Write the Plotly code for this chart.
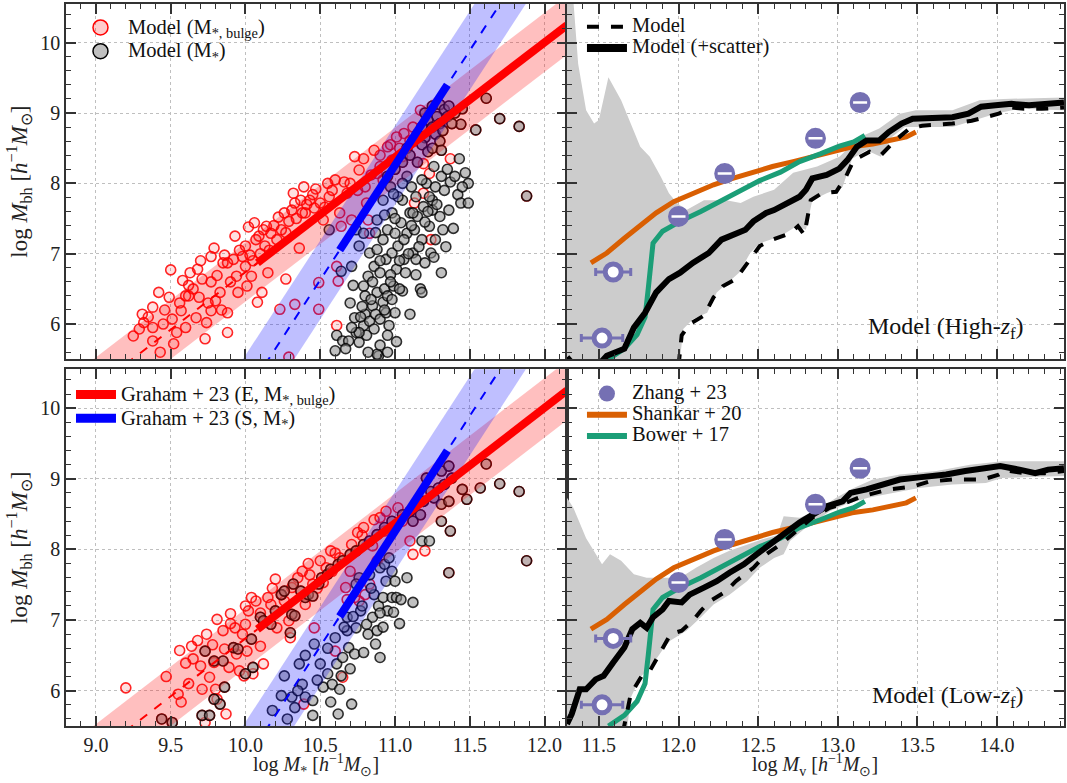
import plotly.graph_objects as go

FONT = "Liberation Serif"

# ---------------- data: top-left (High-zf) scatter ----------------
tl_bulge_only_x = [9.25, 9.29, 9.31, 9.32, 9.38, 9.38, 9.42, 9.45, 9.38, 9.43, 9.49, 9.51, 9.52, 9.54, 9.5, 9.6, 9.57, 9.6, 9.62, 9.65,
                   9.67, 9.69, 9.63, 9.68, 9.71, 9.74, 9.73, 9.77, 9.77, 9.79, 9.77, 9.81, 9.8, 9.83, 9.85, 9.88, 9.88, 9.88, 9.92, 9.93,
                   9.94, 9.95, 9.98, 10.0, 10.0, 10.01, 10.02, 10.04, 10.06, 10.07, 10.08, 10.11, 10.12, 10.13, 10.14, 10.15, 10.17, 10.21, 10.24, 10.26,
                   10.27, 10.29, 10.31, 10.32, 10.33, 10.36, 10.37, 10.38, 10.39, 10.4, 10.43, 10.45, 10.46, 10.49, 10.5, 10.52, 10.55, 10.56, 10.6, 10.61,
                   10.62, 10.63, 10.64, 10.68, 10.7, 10.71, 10.73, 10.76, 10.79, 10.8, 10.81, 10.82, 10.83, 10.86, 10.88, 10.9, 10.92, 10.95, 10.98, 11.01,
                   11.05, 11.06, 11.1, 11.12, 11.17, 11.19, 11.23, 11.24, 11.13, 11.19, 11.37, 10.29, 10.23, 10.49, 10.61, 10.33,
                   9.96, 10.03, 10.09, 10.16, 10.19, 10.22, 10.27, 10.34, 10.41, 10.47, 10.53, 10.58, 10.66, 10.75, 10.84, 10.9, 10.97, 11.03, 9.7, 9.62,
                   9.56, 9.46, 9.35, 9.58, 9.86, 9.9, 10.05, 10.1, 9.75, 9.84]
tl_bulge_only_y = [5.83, 5.93, 6.14, 6.02, 5.95, 6.24, 6.45, 6.0, 5.76, 5.6, 6.38, 6.07, 5.72, 5.88, 6.77, 6.4, 6.19, 5.95, 6.4, 6.5,
                   6.09, 6.38, 6.73, 6.78, 6.64, 6.02, 5.79, 6.19, 6.6, 7.08, 6.96, 6.69, 6.33, 6.45, 6.87, 6.87, 6.16, 5.88, 6.92, 7.25,
                   6.68, 6.45, 6.96, 7.11, 6.82, 6.54, 7.38, 6.68, 7.44, 7.2, 6.31, 6.45, 7.34, 7.11, 7.39, 6.73, 7.29, 7.2, 7.34, 7.58,
                   6.64, 7.46, 7.62, 7.86, 7.72, 7.08, 7.76, 7.58, 7.95, 7.58, 7.76, 7.84, 7.65, 6.59, 7.72, 7.48, 8.0, 7.81, 8.05, 6.82,
                   6.61, 7.58, 7.39, 7.86, 8.0, 7.48, 8.38, 8.19, 8.35, 7.95, 7.72, 7.48, 7.29, 8.47, 8.14, 8.24, 8.05, 8.52, 8.33, 8.66,
                   8.38, 8.71, 8.61, 8.8, 9.04, 8.28, 8.14, 7.2, 7.72, 7.86, 8.35, 5.53, 6.21, 6.21, 5.98, 6.28,
                   7.05, 6.98, 7.25, 7.05, 7.4, 7.52, 7.3, 7.5, 7.7, 7.92, 7.66, 7.9, 8.02, 7.9, 8.12, 8.4, 8.55, 8.5, 6.9, 6.55,
                   6.3, 6.2, 6.1, 6.62, 6.98, 6.6, 6.9, 7.0, 6.3, 6.2]

tl_star_only_x = [10.56, 10.64, 10.71, 10.6, 10.61, 10.65, 10.69, 10.73, 10.74, 10.76, 10.79, 10.8, 10.81, 10.83, 10.85, 10.86, 10.87, 10.88, 10.89, 10.9,
                  10.92, 10.93, 10.94, 10.95, 10.96, 10.98, 10.99, 10.79, 10.82, 10.83, 10.86, 10.88, 10.9, 10.92, 10.94, 10.95, 10.98, 10.98, 11.0, 11.01,
                  11.02, 11.04, 11.05, 11.06, 11.07, 11.08, 11.1, 11.11, 11.12, 11.13, 11.14, 11.15, 11.17, 11.18, 11.19, 11.2, 11.21, 11.23, 11.24, 11.25,
                  11.26, 11.27, 11.3, 11.31, 11.32, 11.36, 11.37, 11.39, 11.42, 11.43, 11.44, 11.49, 11.49, 11.31, 11.18, 11.1, 11.05, 11.0, 10.88, 10.76,
                  10.95, 11.12, 11.14, 11.23, 11.25, 11.02, 10.97, 10.92, 10.88, 10.76, 10.74, 10.79,
                  10.7, 10.72, 10.78, 10.8, 10.85, 10.9, 10.97, 11.03, 11.0, 11.06, 11.09, 11.11, 11.16, 11.2, 11.22, 11.27, 11.28, 11.33, 11.35, 11.4,
                  11.45, 11.47, 11.18, 11.08, 11.05, 10.99, 10.93, 10.87, 10.84, 10.77, 10.82, 10.71, 10.67, 10.93, 10.97, 11.03, 11.14, 11.26, 11.34, 11.01,
                  10.95, 10.9]
tl_star_only_y = [7.34, 6.75, 6.82, 5.62, 5.84, 5.76, 5.76, 6.09, 5.88, 5.74, 5.98, 6.14, 5.84, 6.04, 6.26, 5.93, 6.14, 6.45, 5.55, 6.07,
                  6.31, 6.5, 6.16, 6.4, 5.98, 6.35, 6.54, 6.54, 6.68, 7.01, 6.82, 7.06, 6.73, 7.2, 6.92, 7.34, 7.01, 7.58, 7.29, 6.78,
                  7.11, 7.44, 7.76, 6.92, 6.73, 7.29, 7.58, 7.95, 7.01, 7.34, 6.92, 7.53, 6.5, 7.2, 7.67, 6.87, 8.0, 7.39, 7.01, 7.76,
                  8.24, 7.95, 7.53, 8.1, 7.34, 7.62, 8.02, 7.36, 7.84, 8.35, 7.72, 7.72, 8.0, 6.73, 6.45, 6.14, 6.47, 6.16, 5.57, 5.88,
                  5.84, 7.58, 7.81, 7.81, 7.62, 7.81, 7.95, 7.76, 7.48, 7.11, 7.34, 7.29,
                  6.3, 6.55, 6.25, 6.4, 6.6, 6.9, 6.7, 6.9, 7.5, 7.2, 7.0, 7.4, 7.1, 7.45, 7.6, 7.2, 7.7, 7.9, 8.2, 8.1,
                  7.95, 8.15, 8.05, 8.1, 8.0, 7.85, 7.55, 7.3, 6.35, 6.1, 5.6, 5.95, 5.65, 6.2, 6.6, 6.5, 6.7, 6.95, 7.1, 5.75,
                  5.6, 5.7]

tl_both_x = [11.61, 11.7, 11.83, 11.88, 11.54, 11.44, 11.45, 11.2, 11.25, 11.3, 11.33, 11.28, 11.22, 11.18, 11.25, 11.3, 11.35, 11.15, 11.2, 11.27,
             11.12, 11.18, 11.08, 11.22, 11.3, 11.36, 11.4, 11.1, 11.05, 11.0, 10.95, 11.15, 11.25, 11.32, 11.38, 11.31]
tl_both_y = [9.21, 8.92, 8.81, 7.82, 8.76, 8.84, 9.06, 9.0, 9.1, 9.12, 9.05, 8.95, 8.9, 8.8, 8.8, 8.85, 8.95, 8.7, 8.65, 8.7,
             8.6, 8.55, 8.5, 8.45, 8.6, 9.1, 9.0, 8.4, 8.3, 8.2, 8.1, 8.3, 8.5, 8.75, 8.85, 8.47]

# ---------------- data: bottom-left (Low-zf) scatter ----------------
bl_bulge_only_x = [9.2, 9.56, 9.6, 9.57, 9.55, 9.64, 9.68, 9.7, 9.71, 9.73, 9.74, 9.76, 9.79, 9.8, 9.81, 9.81, 9.85, 9.86, 9.87, 9.89,
                   9.9, 9.93, 9.94, 9.96, 9.98, 9.99, 10.0, 10.01, 10.02, 10.04, 10.05, 10.07, 10.1, 10.12, 10.15, 10.17, 10.2, 10.21, 10.24, 10.26,
                   10.29, 10.3, 10.31, 10.38, 10.39, 10.4, 10.43, 10.45, 10.46, 10.5, 10.52, 10.54, 10.57, 10.58, 10.6, 10.63, 10.65, 10.67, 10.68, 10.7,
                   10.71, 10.73, 10.75, 10.76, 10.79, 10.8, 10.83, 10.86, 10.88, 10.93, 10.94, 11.02, 11.05, 11.12, 11.2, 11.1,
                   9.65, 9.9, 10.0, 10.1, 10.18, 10.35, 10.42, 10.48, 10.6, 10.78, 10.85, 10.9, 9.47, 9.62, 9.78]
bl_bulge_only_y = [6.04, 6.57, 6.39, 5.84, 5.95, 6.63, 6.71, 6.35, 6.02, 5.55, 6.8, 6.19, 6.4, 6.02, 5.88, 7.01, 6.85, 6.59, 5.67, 6.33,
                   7.09, 6.89, 6.52, 6.28, 6.8, 6.21, 6.94, 6.56, 7.13, 7.32, 6.24, 7.27, 6.63, 6.38, 7.32, 7.22, 7.58, 6.89, 7.36, 7.27,
                   6.99, 6.75, 7.46, 7.69, 5.81, 7.22, 7.64, 7.51, 6.89, 7.84, 7.53, 7.74, 7.98, 7.69, 6.56, 7.88, 6.19, 7.46, 7.29, 7.69,
                   8.07, 7.32, 8.24, 7.27, 8.31, 7.36, 7.51, 8.42, 7.84, 8.26, 8.54, 8.59, 8.4, 7.93, 7.98, 8.12,
                   6.45, 6.95, 7.2, 7.1, 7.45, 7.6, 7.8, 7.45, 7.95, 8.2, 8.05, 8.45, 6.2, 6.1, 6.65]

bl_star_only_x = [10.18, 10.24, 10.26, 10.31, 10.33, 10.36, 10.38, 10.4, 10.45, 10.46, 10.5, 10.52, 10.55, 10.57, 10.58, 10.61, 10.62, 10.63, 10.64, 10.65,
                  10.68, 10.69, 10.7, 10.71, 10.73, 10.74, 10.77, 10.79, 10.81, 10.82, 10.85, 10.86, 10.87, 10.88, 10.89, 10.9, 10.92, 10.94, 10.95, 10.98,
                  10.99, 11.01, 11.04, 11.08, 11.12, 11.18, 11.23, 10.9, 10.93, 10.96, 10.98, 10.83, 10.76, 10.74, 10.68,
                  10.4, 10.55, 10.6, 10.66, 10.72, 10.78, 10.84, 10.9, 11.0, 11.03, 10.92, 10.48, 10.35, 10.28, 10.45]
bl_star_only_y = [5.72, 5.93, 6.21, 5.91, 5.76, 6.38, 6.09, 5.91, 5.86, 6.66, 6.38, 6.05, 6.24, 5.84, 6.09, 6.38, 5.67, 6.02, 6.21, 6.47,
                  6.85, 6.61, 6.31, 5.81, 6.52, 6.89, 7.13, 6.54, 6.94, 6.8, 7.04, 7.36, 6.66, 6.85, 7.2, 6.47, 7.32, 7.55, 7.13, 7.32,
                  7.11, 7.32, 7.29, 7.6, 7.25, 8.12, 8.12, 7.74, 7.79, 7.88, 7.69, 7.64, 7.6, 7.51, 7.04,
                  6.5, 6.6, 6.75, 6.9, 7.05, 7.2, 7.45, 7.1, 7.55, 6.95, 6.9, 6.15, 6.0, 5.6, 5.65]

bl_both_x = [9.73, 9.79, 9.85, 9.86, 9.71, 9.76, 9.83, 9.79, 9.44, 9.51, 9.92, 9.95, 10.0, 10.04, 10.05, 10.1, 10.12, 10.17, 10.2, 10.24,
             10.26, 10.32, 10.3, 10.31, 10.33, 10.37, 10.4, 10.42, 10.45, 10.49, 10.51, 10.55, 10.57, 10.62, 10.65, 10.7, 10.74, 10.79, 10.83, 10.88,
             10.93, 10.98, 11.05, 11.1, 11.14, 11.19, 11.24, 11.29, 11.33, 11.38, 11.21, 11.31, 11.36, 11.26, 11.17, 11.12, 11.31, 11.36, 11.45, 11.48,
             11.31, 11.37, 11.57, 11.61, 11.7, 11.83, 11.88, 11.36]
bl_both_y = [6.56, 6.42, 6.42, 6.05, 5.65, 5.65, 5.81, 5.88, 5.6, 5.55, 6.61, 6.59, 6.24, 6.73, 6.33, 7.04, 6.99, 6.94, 7.13, 7.36,
             7.41, 7.51, 6.82, 7.08, 7.06, 7.41, 7.32, 7.36, 7.34, 7.51, 7.6, 7.65, 7.72, 7.79, 7.84, 7.93, 7.98, 8.07, 8.12, 8.21,
             8.31, 8.4, 8.49, 8.54, 8.64, 8.68, 8.82, 8.87, 8.92, 9.01, 9.01, 9.11, 9.18, 8.73, 8.49, 8.4, 8.64, 8.68, 8.85, 8.71,
             8.4, 8.26, 8.87, 9.21, 8.93, 8.82, 7.84, 7.67]

# ---------------- Graham+23 relations ----------------
grahamE_solid_x = [10.08, 12.15]
grahamE_solid_y = [6.87, 10.25]
grahamE_dash_x = [9.2, 10.08]
grahamE_dash_y = [5.43, 6.87]
grahamE_band_x = [8.8, 12.15]
grahamE_band_lo = [4.36, 9.83]
grahamE_band_hi = [5.20, 10.67]

grahamS_solid_x = [10.63, 11.35]
grahamS_solid_y = [7.05, 9.40]
grahamS_dash_x = [10.13, 11.73]
grahamS_dash_y = [5.42, 10.64]
grahamS_band_x = [9.9, 12.0]
grahamS_band_lo = [4.11, 10.96]
grahamS_band_hi = [5.23, 12.08]

# ---------------- right panels ----------------
hi_scat_x = [11.3, 11.33, 11.45, 11.55, 11.66, 11.72, 11.79, 11.86, 11.94, 12.01, 12.09, 12.19, 12.27, 12.34, 12.42, 12.47, 12.55, 12.6, 12.68, 12.76,
             12.8, 12.84, 12.93, 13.01, 13.06, 13.12, 13.18, 13.26, 13.32, 13.4, 13.47, 13.59, 13.72, 13.82, 13.9, 13.99, 14.09, 14.2, 14.28, 14.42]
hi_scat_y = [5.53, 5.45, 5.3, 5.55, 5.65, 5.95, 6.16, 6.45, 6.64, 6.73, 6.87, 7.01, 7.2, 7.27, 7.34, 7.46, 7.58, 7.62, 7.72, 7.81,
             7.91, 8.07, 8.12, 8.21, 8.33, 8.52, 8.61, 8.61, 8.73, 8.85, 8.92, 8.92, 8.94, 8.99, 9.09, 9.11, 9.13, 9.11, 9.13, 9.15]
hi_model_x = [12.0, 12.02, 12.07, 12.16, 12.22, 12.28, 12.36, 12.45, 12.51, 12.59, 12.7, 12.75, 12.79, 12.83, 12.9, 12.99, 13.05, 13.1, 13.2, 13.27,
              13.36, 13.45, 13.53, 13.72, 13.84, 14.01, 14.09, 14.17, 14.28, 14.42]
hi_model_y = [5.4, 5.84, 6.0, 6.12, 6.38, 6.54, 6.64, 6.92, 7.11, 7.2, 7.29, 7.39, 7.27, 7.76, 7.86, 7.88, 8.09, 8.33, 8.45, 8.4,
              8.61, 8.78, 8.82, 8.85, 8.89, 8.99, 9.08, 9.06, 9.06, 9.08]
hi_band_up_x = [11.3, 11.34, 11.37, 11.42, 11.47, 11.5, 11.56, 11.64, 11.7, 11.76, 11.82, 11.89, 11.94, 11.99, 12.05, 12.16, 12.3, 12.39, 12.47, 12.6,
                12.72, 12.87, 13.01, 13.14, 13.26, 13.39, 13.49, 13.72, 13.89, 14.04, 14.42]
hi_band_up_y = [10.6, 10.6, 9.7, 9.04, 8.85, 8.9, 9.51, 9.18, 8.85, 8.52, 8.38, 8.09, 7.86, 7.72, 7.62, 7.76, 7.76, 7.72, 7.81, 7.91,
                8.15, 8.24, 8.38, 8.66, 8.78, 8.99, 9.04, 9.04, 9.18, 9.2, 9.22]
hi_band_lo_x = [11.3, 12.0, 12.01, 12.03, 12.09, 12.18, 12.24, 12.31, 12.38, 12.45, 12.51, 12.64, 12.74, 12.8, 12.84, 12.93, 13.03, 13.09, 13.18, 13.27,
                13.34, 13.42, 13.51, 13.72, 13.99, 14.14, 14.42]
hi_band_lo_y = [5.3, 5.3, 5.5, 5.93, 6.07, 6.16, 6.45, 6.59, 6.73, 7.01, 7.15, 7.25, 7.39, 7.34, 7.76, 7.86, 7.95, 8.35, 8.47, 8.38,
                8.66, 8.8, 8.8, 8.8, 8.99, 9.06, 9.04]

lo_scat_x = [11.3, 11.33, 11.38, 11.42, 11.48, 11.53, 11.59, 11.66, 11.71, 11.76, 11.8, 11.84, 11.9, 11.94, 12.02, 12.07, 12.16, 12.24, 12.32, 12.41,
             12.49, 12.57, 12.68, 12.76, 12.84, 12.93, 13.03, 13.08, 13.18, 13.28, 13.39, 13.51, 13.68, 13.8, 13.93, 14.02, 14.14, 14.24, 14.32, 14.42]
lo_scat_y = [5.53, 5.67, 6.02, 6.02, 6.16, 6.21, 6.4, 6.61, 6.87, 6.96, 6.89, 7.04, 7.15, 7.27, 7.25, 7.36, 7.46, 7.55, 7.67, 7.79,
             7.93, 8.07, 8.24, 8.38, 8.49, 8.61, 8.68, 8.8, 8.85, 8.92, 8.99, 9.02, 9.06, 9.11, 9.15, 9.18, 9.13, 9.08, 9.13, 9.15]
lo_model_x = [11.65, 11.7, 11.77, 11.82, 11.89, 11.95, 12.02, 12.09, 12.14, 12.2, 12.3, 12.36, 12.47, 12.55, 12.64, 12.74, 12.84, 12.95, 13.05, 13.15,
              13.24, 13.32, 13.47, 13.57, 13.72, 13.91, 14.01, 14.05, 14.17, 14.3, 14.42]
lo_model_y = [5.4, 5.95, 6.21, 6.28, 6.56, 6.8, 6.85, 6.99, 7.13, 7.27, 7.41, 7.55, 7.74, 7.93, 8.07, 8.26, 8.45, 8.59, 8.66, 8.75,
              8.8, 8.85, 8.89, 8.96, 8.99, 8.99, 9.06, 9.12, 9.08, 9.08, 9.11]
lo_band_up_x = [11.3, 11.34, 11.42, 11.48, 11.52, 11.57, 11.64, 11.72, 11.8, 11.91, 12.01, 12.11, 12.22, 12.32, 12.43, 12.55, 12.62, 12.66, 12.76, 12.86,
                12.99, 13.1, 13.22, 13.39, 13.62, 13.83, 14.03, 14.42]
lo_band_up_y = [8.73, 8.59, 8.16, 7.93, 7.79, 7.93, 7.84, 7.65, 7.6, 7.6, 7.6, 7.74, 7.88, 7.98, 8.07, 8.16, 8.2, 8.47, 8.45, 8.54,
                8.73, 8.87, 8.99, 9.06, 9.11, 9.2, 9.25, 9.25]
lo_band_lo_x = [11.3, 11.67, 11.7, 11.76, 11.84, 11.91, 11.95, 12.05, 12.14, 12.22, 12.32, 12.43, 12.51, 12.6, 12.66, 12.7, 12.8, 12.95, 13.05, 13.19,
                13.36, 13.51, 13.72, 13.93, 14.03, 14.42]
lo_band_lo_y = [5.3, 5.3, 5.9, 6.19, 6.38, 6.61, 6.71, 6.85, 7.04, 7.22, 7.36, 7.55, 7.74, 7.88, 7.93, 8.12, 8.31, 8.54, 8.64, 8.73,
                8.8, 8.87, 8.92, 8.94, 9.01, 9.04]

zhang_x = [11.52, 11.59, 12.0, 12.29, 12.86, 13.14]
zhang_y = [5.80, 6.74, 7.53, 8.14, 8.64, 9.15]
zhang_xerr = [0.13, 0.11, 0.04, 0.04, 0.04, 0.04]
zhang_yerr = [0.05, 0.05, 0.05, 0.05, 0.05, 0.05]

shankar_x = [11.45, 11.55, 11.66, 11.76, 11.86, 11.97, 12.09, 12.22, 12.34, 12.47, 12.59, 12.72, 12.84, 12.97, 13.09, 13.22, 13.34, 13.43, 13.49]
shankar_y = [6.87, 7.01, 7.22, 7.39, 7.58, 7.74, 7.86, 7.98, 8.07, 8.16, 8.24, 8.31, 8.38, 8.45, 8.52, 8.56, 8.61, 8.66, 8.73]

bower_x = [11.56, 11.66, 11.74, 11.79, 11.81, 11.84, 11.9, 12.01, 12.14, 12.26, 12.39, 12.51, 12.64, 12.76, 12.89, 13.01, 13.1, 13.17]
bower_y = [5.5, 5.65, 5.85, 6.1, 6.5, 7.15, 7.32, 7.46, 7.6, 7.74, 7.9, 8.04, 8.16, 8.31, 8.42, 8.53, 8.59, 8.68]

RED = "#ff0000"
BLUE = "#0000ff"
PURPLE = "#7570b3"
ORANGE = "#d95f02"
GREEN = "#1b9e77"

fig = go.Figure()

def add_left(xa, ya, bulge_only_x, bulge_only_y, star_only_x, star_only_y, both_x, both_y):
    rx = bulge_only_x + both_x
    ry = bulge_only_y + both_y
    sx = star_only_x + both_x
    sy = star_only_y + both_y
    fig.add_trace(go.Scatter(x=rx, y=ry, mode="markers", xaxis=xa, yaxis=ya, showlegend=False,
                             marker=dict(size=10, color="rgba(255,0,0,0.12)", line=dict(color="rgba(255,0,0,0.85)", width=1.6))))
    fig.add_trace(go.Scatter(x=sx, y=sy, mode="markers", xaxis=xa, yaxis=ya, showlegend=False,
                             marker=dict(size=10, color="rgba(140,140,140,0.55)", line=dict(color="rgba(0,0,0,0.8)", width=1.6))))
    # bands on top of points
    fig.add_trace(go.Scatter(x=grahamE_band_x + grahamE_band_x[::-1], y=grahamE_band_hi + grahamE_band_lo[::-1],
                             fill="toself", fillcolor="rgba(255,0,0,0.25)", line=dict(width=0), mode="lines",
                             xaxis=xa, yaxis=ya, showlegend=False, hoverinfo="skip"))
    fig.add_trace(go.Scatter(x=grahamS_band_x + grahamS_band_x[::-1], y=grahamS_band_hi + grahamS_band_lo[::-1],
                             fill="toself", fillcolor="rgba(0,0,255,0.25)", line=dict(width=0), mode="lines",
                             xaxis=xa, yaxis=ya, showlegend=False, hoverinfo="skip"))
    fig.add_trace(go.Scatter(x=grahamE_dash_x, y=grahamE_dash_y, mode="lines", xaxis=xa, yaxis=ya, showlegend=False,
                             line=dict(color=RED, width=2, dash="dash")))
    fig.add_trace(go.Scatter(x=grahamS_dash_x, y=grahamS_dash_y, mode="lines", xaxis=xa, yaxis=ya, showlegend=False,
                             line=dict(color=BLUE, width=2, dash="dash")))
    fig.add_trace(go.Scatter(x=grahamE_solid_x, y=grahamE_solid_y, mode="lines", xaxis=xa, yaxis=ya, showlegend=False,
                             line=dict(color=RED, width=8)))
    fig.add_trace(go.Scatter(x=grahamS_solid_x, y=grahamS_solid_y, mode="lines", xaxis=xa, yaxis=ya, showlegend=False,
                             line=dict(color=BLUE, width=8)))

add_left("x", "y", tl_bulge_only_x, tl_bulge_only_y, tl_star_only_x, tl_star_only_y, tl_both_x, tl_both_y)
add_left("x3", "y3", bl_bulge_only_x, bl_bulge_only_y, bl_star_only_x, bl_star_only_y, bl_both_x, bl_both_y)

def add_right(xa, ya, up_x, up_y, lo_x, lo_y, model_x, model_y, scat_x, scat_y):
    fig.add_trace(go.Scatter(x=up_x + lo_x[::-1], y=up_y + lo_y[::-1], mode="lines", fill="toself",
                             fillcolor="#cccccc", line=dict(width=0), xaxis=xa, yaxis=ya,
                             showlegend=False, hoverinfo="skip"))
    fig.add_trace(go.Scatter(x=shankar_x, y=shankar_y, mode="lines", line=dict(color=ORANGE, width=5),
                             xaxis=xa, yaxis=ya, showlegend=False))
    fig.add_trace(go.Scatter(x=bower_x, y=bower_y, mode="lines", line=dict(color=GREEN, width=5),
                             xaxis=xa, yaxis=ya, showlegend=False))
    fig.add_trace(go.Scatter(x=model_x, y=model_y, mode="lines", line=dict(color="black", width=4, dash="dash"),
                             xaxis=xa, yaxis=ya, showlegend=False))
    fig.add_trace(go.Scatter(x=scat_x, y=scat_y, mode="lines", line=dict(color="black", width=6),
                             xaxis=xa, yaxis=ya, showlegend=False))
    fig.add_trace(go.Scatter(x=zhang_x, y=zhang_y, mode="markers", xaxis=xa, yaxis=ya, showlegend=False,
                             error_x=dict(type="data", array=zhang_xerr, color=PURPLE, thickness=3, width=4),
                             error_y=dict(type="data", array=zhang_yerr, color=PURPLE, thickness=2, width=0),
                             marker=dict(size=16, color=["white", "white", PURPLE, PURPLE, PURPLE, PURPLE],
                                         line=dict(color=PURPLE, width=5))))
    fig.add_trace(go.Scatter(x=zhang_x[2:], y=zhang_y[2:], mode="markers", xaxis=xa, yaxis=ya, showlegend=False,
                             marker=dict(size=10, symbol="line-ew", line=dict(color="white", width=2.5))))

add_right("x2", "y2", hi_band_up_x, hi_band_up_y, hi_band_lo_x, hi_band_lo_y, hi_model_x, hi_model_y, hi_scat_x, hi_scat_y)
add_right("x4", "y4", lo_band_up_x, lo_band_up_y, lo_band_lo_x, lo_band_lo_y, lo_model_x, lo_model_y, lo_scat_x, lo_scat_y)

# ---------------- legend-only entries ----------------
def big(t):
    return '<span style="font-size:20.5px">' + t + '</span>'

def leg(name, legend, **kw):
    fig.add_trace(go.Scatter(x=[None], y=[None], name=big(name), legend=legend, **kw))

leg("Model (M<sub>*, bulge</sub>)", "legend", mode="markers",
    marker=dict(size=15, color="rgba(255,0,0,0.2)", line=dict(color=RED, width=1.5)))
leg("Model (M<sub>*</sub>)", "legend", mode="markers",
    marker=dict(size=15, color="#c0c0c0", line=dict(color="black", width=1.5)))
leg("Model", "legend2", mode="lines", line=dict(color="black", width=4, dash="dash"))
leg("Model (+scatter)", "legend2", mode="lines", line=dict(color="black", width=8))
leg("Graham + 23 (E, M<sub>*, bulge</sub>)", "legend3", mode="lines", line=dict(color=RED, width=9))
leg("Graham + 23 (S, M<sub>*</sub>)", "legend3", mode="lines", line=dict(color=BLUE, width=9))
leg("Zhang + 23", "legend4", mode="markers", marker=dict(size=17, color=PURPLE))
leg("Shankar + 20", "legend4", mode="lines", line=dict(color=ORANGE, width=6))
leg("Bower + 17", "legend4", mode="lines", line=dict(color=GREEN, width=6))

# ---------------- axes ----------------
LC = "#333333"
def axis(rng, dtick, minor_dtick, domain, anchor, showlabels, fmt=None, title=None):
    d = dict(range=rng, domain=domain, anchor=anchor, dtick=dtick, tick0=0,
             showline=True, linecolor=LC, linewidth=1.6, mirror="allticks",
             ticks="inside", ticklen=10, tickwidth=2, tickcolor=LC,
             showgrid=True, gridcolor="#bfbfbf", griddash="dot", gridwidth=1, zeroline=False,
             showticklabels=showlabels,
             tickfont=dict(family=FONT, size=20, color="#222"),
             minor=dict(ticks="inside", ticklen=5, tickwidth=1.3, tickcolor=LC, dtick=minor_dtick, showgrid=False))
    if fmt:
        d["tickformat"] = fmt
    if title:
        d["title"] = dict(text=title, font=dict(family=FONT, size=23, color="#222"), standoff=6)
    return d

XL = [8.8, 12.15]
XR = [11.3, 14.42]
YR = [5.5, 10.55]
DL = [0.0, 0.502]
DR = [0.502, 1.0]
DT = [0.508, 1.0]
DB = [0.0, 0.494]

unit = "[<i>h</i><sup>−1</sup><i>M</i><sub>⊙</sub>]"
fig.update_layout(
    xaxis=axis(XL, 0.5, 0.1, DL, "y", False),
    yaxis=axis(YR, 1, 0.2, DT, "x", True, title="log <i>M</i><sub>bh</sub> " + unit),
    xaxis2=axis(XR, 0.5, 0.1, DR, "y2", False),
    yaxis2=axis(YR, 1, 0.2, DT, "x2", False),
    xaxis3=axis(XL, 0.5, 0.1, DL, "y3", True, fmt=".1f"),
    yaxis3=axis(YR, 1, 0.2, DB, "x3", True, title="log <i>M</i><sub>bh</sub> " + unit),
    xaxis4=axis(XR, 0.5, 0.1, DR, "y4", True, fmt=".1f"),
    yaxis4=axis(YR, 1, 0.2, DB, "x4", False),
)

def legbox(x, y, base, iw):
    return dict(x=x, y=y, xanchor="left", yanchor="top", bgcolor="rgba(0,0,0,0)", borderwidth=0,
                font=dict(family=FONT, size=base, color="#111"), tracegroupgap=0, itemwidth=iw)

fig.update_layout(
    width=1067, height=783,
    margin=dict(l=66, r=1, t=4, b=57),
    paper_bgcolor="white", plot_bgcolor="white",
    font=dict(family=FONT, size=18, color="#222"),
    legend=legbox(0.007, 0.991, 16, 45),
    legend2=legbox(0.517, 0.990, 14, 40),
    legend3=legbox(0.005, 0.4825, 16, 40),
    legend4=legbox(0.517, 0.482, 14, 40),
    annotations=[
        dict(text="Model (High-<i>z</i><sub>f</sub>)", x=0.962, y=0.551, xref="paper", yref="paper",
             xanchor="right", yanchor="middle", showarrow=False, font=dict(family=FONT, size=24, color="#111")),
        dict(text="Model (Low-<i>z</i><sub>f</sub>)", x=0.962, y=0.04, xref="paper", yref="paper",
             xanchor="right", yanchor="middle", showarrow=False, font=dict(family=FONT, size=24, color="#111")),
        dict(text="log <i>M</i><sub>*</sub> " + unit, x=0.251, y=-0.0765, xref="paper", yref="paper",
             xanchor="center", yanchor="bottom", showarrow=False, font=dict(family=FONT, size=20, color="#222")),
        dict(text="log <i>M</i><sub>v</sub> " + unit, x=0.751, y=-0.0765, xref="paper", yref="paper",
             xanchor="center", yanchor="bottom", showarrow=False, font=dict(family=FONT, size=20, color="#222")),
    ],
)

fig.write_html("out.html")
